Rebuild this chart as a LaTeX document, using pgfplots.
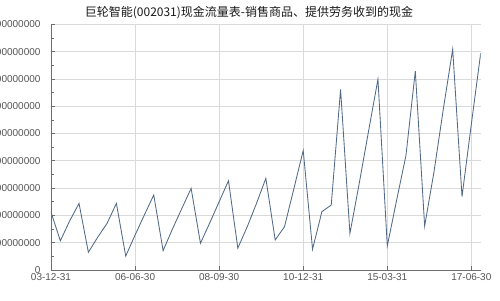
\documentclass[border=0pt]{standalone}
\usepackage{pgfplots}
\pgfplotsset{compat=1.18}
\usepackage{fontspec}
\setmainfont{Liberation Sans}
\newfontfamily\cjk{Noto Sans CJK SC}
\definecolor{serie}{RGB}{82,106,136}
\definecolor{axisgray}{RGB}{110,110,110}
\definecolor{gridgray}{RGB}{218,218,218}
\definecolor{labelgray}{RGB}{85,85,85}

% quarterly cash received from sales of goods and services (unit: 1e8 yuan)
\pgfplotstableread{
idx val
0  2.12
1  1.07
2  1.80
3  2.44
4  0.65
5  1.20
6  1.71
7  2.44
8  0.51
9  1.28
10 2.02
11 2.75
12 0.71
13 1.50
14 2.25
15 2.99
16 0.98
17 1.73
18 2.50
19 3.27
20 0.80
21 1.58
22 2.44
23 3.36
24 1.10
25 1.59
26 2.98
27 4.38
28 0.76
29 2.14
30 2.38
31 6.62
32 1.34
33 3.18
34 5.10
35 6.99
36 0.88
37 2.56
38 4.20
39 7.29
40 1.61
41 3.60
42 5.90
43 8.09
44 2.69
45 5.35
46 7.95
}\cashdata

\begin{document}
\begin{tikzpicture}
\begin{axis}[
  scale only axis, width=429.7pt, height=245.6pt,
  xmin=0, xmax=46, ymin=0, ymax=9,
  axis x line=bottom, axis y line=left,
  axis line style={-, draw=axisgray, line width=0.9pt},
  xtick={0,9,18,27,36,45},
  xticklabels={03-12-31,06-06-30,08-09-30,10-12-31,15-03-31,17-06-30},
  ytick={0,1,...,9},
  yticklabels={0,100000000,200000000,300000000,400000000,500000000,600000000,700000000,800000000,900000000},
  minor y tick num=1,
  tick align=inside,
  major tick length=4.5pt, minor tick length=3pt,
  tick style={draw=axisgray, line width=0.8pt},
  grid=major,
  major grid style={draw=gridgray, line width=0.8pt},
  ticklabel style={font=\fontsize{10}{11}\selectfont, text=labelgray},
  yticklabel style={anchor=east, xshift=-7pt},
  xticklabel style={anchor=north, yshift=0pt},
]
\addplot[serie, line width=0.85pt, mark=none] table[x=idx, y=val] {\cashdata};
\coordinate (c0) at (rel axis cs:0,0);
\coordinate (c1) at (rel axis cs:1,1);
\end{axis}
% fixed 500 x 300 frame around the plot area
\pgfresetboundingbox
\path[use as bounding box] ([xshift=-51pt,yshift=-30pt]c0) rectangle ([xshift=19.3pt,yshift=24.4pt]c1);
\node[font=\cjk\fontsize{12}{14}\selectfont, text=black!90] at ([xshift=198pt,yshift=257.5pt]c0)
  {巨轮智能(002031)现金流量表-销售商品、提供劳务收到的现金};
\end{tikzpicture}
\end{document}
